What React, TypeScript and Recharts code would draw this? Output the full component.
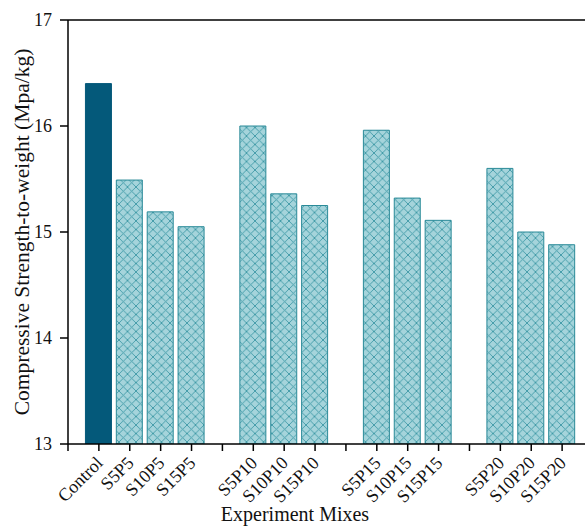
import { BarChart, Bar, XAxis, YAxis, Cell, ReferenceLine } from 'recharts';

// mixes in axis order; '' marks the empty slot between groups
const categories = [
  'Control', 'S5P5', 'S10P5', 'S15P5', '',
  'S5P10', 'S10P10', 'S15P10', '',
  'S5P15', 'S10P15', 'S15P15', '',
  'S5P20', 'S10P20', 'S15P20',
];
const strengthToWeight: (number | null)[] = [
  16.4, 15.49, 15.19, 15.05, null,
  16.0, 15.36, 15.25, null,
  15.96, 15.32, 15.11, null,
  15.6, 15.0, 14.88,
];
const yTicks = [13, 14, 15, 16, 17];

const data = categories
  .map((name, i) => ({ pos: i + 1, name, value: strengthToWeight[i] }))
  .filter((d) => d.value !== null);
const xTicks = [0, ...categories.map((_, i) => i + 1)];

const FONT = '"Liberation Serif", "Times New Roman", serif';
const DARK = '#04597a';
const HATCH_BG = '#a5d4db';
const HATCH_LINE = '#3d98a5';
const HATCH_STROKE = '#2a8a98';

function MixTick(props: any) {
  const { x, y, payload } = props;
  const label = categories[payload.value - 1] ?? '';
  return (
    <g>
      <line x1={x} y1={y - 10} x2={x} y2={y - 3} stroke="#000" strokeWidth={1.5} />
      {label && (
        <text
          x={x + 5}
          y={y + 10}
          textAnchor="end"
          transform={`rotate(-45, ${x + 5}, ${y + 10})`}
          style={{ fontFamily: FONT, fontSize: 18 }}
          fill="#111"
        >
          {label}
        </text>
      )}
    </g>
  );
}

function ValueTick(props: any) {
  const { x, y, payload } = props;
  return (
    <text x={x} y={y} dy="0.35em" textAnchor="end" style={{ fontFamily: FONT, fontSize: 18 }} fill="#111">
      {String(payload.value)}
    </text>
  );
}

function XTitle(props: any) {
  const { viewBox } = props;
  return (
    <text x={295} y={viewBox.y + viewBox.height - 7} textAnchor="middle" style={{ fontFamily: FONT, fontSize: 20 }} fill="#111">
      Experiment Mixes
    </text>
  );
}

function YTitle() {
  return (
    <text
      x={22}
      y={232}
      textAnchor="middle"
      dominantBaseline="central"
      transform="rotate(-90, 22, 232)"
      style={{ fontFamily: FONT, fontSize: 21.5 }}
      fill="#111"
    >
      Compressive Strength-to-weight (Mpa/kg)
    </text>
  );
}

export default function App() {
  return (
    <div style={{ position: 'absolute', left: 0, top: 0, width: 585, height: 528, overflow: 'hidden', background: '#fff', fontFamily: FONT }}>
      <BarChart width={600} height={528} data={data} margin={{ top: 20, right: 7, left: 0, bottom: 0 }}>
        <defs>
          <pattern id="crosshatch" patternUnits="userSpaceOnUse" width={8.5} height={8.5}>
            <rect width={8.5} height={8.5} fill={HATCH_BG} />
            <path d="M0,0 L8.5,8.5 M8.5,0 L0,8.5" stroke={HATCH_LINE} strokeWidth={0.9} />
          </pattern>
        </defs>
        <XAxis
          type="number"
          dataKey="pos"
          domain={[0, 17]}
          ticks={xTicks}
          interval={0}
          height={84}
          axisLine={{ stroke: '#000', strokeWidth: 1.5 }}
          tickLine={false}
          tickSize={0}
          tickMargin={10}
          tick={<MixTick />}
          label={<XTitle />}
        />
        <YAxis
          type="number"
          domain={[13, 17]}
          ticks={yTicks}
          width={68}
          allowDataOverflow
          axisLine={{ stroke: '#000', strokeWidth: 1.5 }}
          tickLine={{ stroke: '#000', strokeWidth: 1.5 }}
          tickSize={8}
          tickMargin={8}
          tick={<ValueTick />}
          label={<YTitle />}
        />
        <ReferenceLine y={17} stroke="#000" strokeWidth={1.5} />
        <Bar dataKey="value" barSize={26} isAnimationActive={false}>
          {data.map((d, i) => (
            <Cell
              key={i}
              fill={d.name === 'Control' ? DARK : 'url(#crosshatch)'}
              stroke={d.name === 'Control' ? DARK : HATCH_STROKE}
              strokeWidth={1}
            />
          ))}
        </Bar>
      </BarChart>
    </div>
  );
}
